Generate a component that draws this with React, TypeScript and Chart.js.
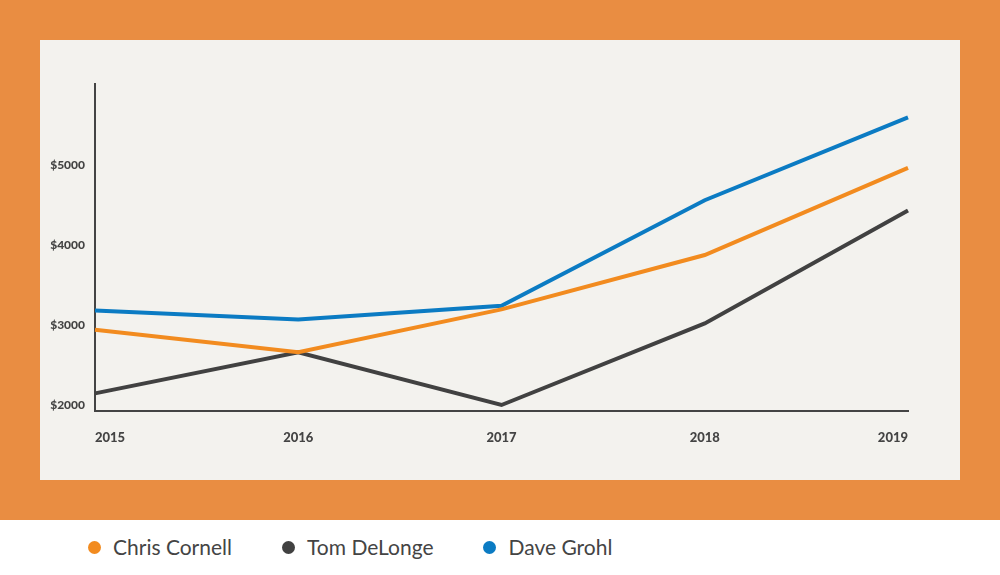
import React, { useEffect, useRef } from "react";
import { Chart, registerables } from "chart.js";

Chart.register(...registerables);

const years = ["2015", "2016", "2017", "2018", "2019"];
const seriesNames = ["Chris Cornell", "Tom DeLonge", "Dave Grohl"];
const seriesColors = ["#F28B1F", "#414141", "#0B7BC3"];
const chrisCornell = [2940, 2660, 3195, 3875, 4965];
const tomDeLonge = [2145, 2660, 2000, 3020, 4430];
const daveGrohl = [3180, 3070, 3240, 4560, 5595];
const yTicks = [2000, 3000, 4000, 5000];

const seriesValues = [chrisCornell, tomDeLonge, daveGrohl];
const TEXT = "#444444";
const FONT = "Lato, 'Noto Sans', sans-serif";

export default function App() {
  const ref = useRef<HTMLCanvasElement | null>(null);

  useEffect(() => {
    if (!ref.current) return;
    const chart = new Chart(ref.current, {
      type: "line",
      data: {
        labels: years,
        datasets: seriesNames.map((name, i) => ({
          label: name,
          data: seriesValues[i],
          borderColor: seriesColors[i],
          backgroundColor: seriesColors[i],
          borderWidth: 4,
          pointRadius: 0,
          pointHoverRadius: 0,
          tension: 0,
          fill: false,
        })),
      },
      options: {
        responsive: false,
        animation: false,
        layout: { padding: { top: 44, right: 52, left: 0, bottom: 0 } },
        plugins: {
          legend: { display: false },
          tooltip: { enabled: false },
        },
        scales: {
          x: {
            grid: { display: false, drawTicks: false },
            border: { display: true, color: TEXT, width: 2 },
            ticks: {
              align: "inner",
              padding: 19,
              color: TEXT,
              font: { family: FONT, size: 13, weight: "900" },
              maxRotation: 0,
            },
            afterFit: (s: any) => {
              s.height = 69;
            },
          },
          y: {
            min: 1925,
            max: 6012.5,
            grid: { display: false, drawTicks: false },
            border: { display: true, color: TEXT, width: 2 },
            afterBuildTicks: (s: any) => {
              s.ticks = yTicks.map((v) => ({ value: v }));
            },
            ticks: {
              padding: 10,
              color: TEXT,
              font: { family: FONT, size: 12, weight: "900" },
              callback: (v: any) => "$" + v,
            },
            afterFit: (s: any) => {
              s.width = 55;
            },
          },
        },
      },
    });
    return () => chart.destroy();
  }, []);

  return (
    <div
      style={{
        position: "fixed",
        left: 0,
        top: 0,
        width: 1000,
        height: 575,
        background: "#FFFFFF",
        fontFamily: FONT,
      }}
    >
      <div
        style={{
          position: "absolute",
          left: 0,
          top: 0,
          width: 1000,
          height: 520,
          background: "#E98D42",
        }}
      />
      <div
        style={{
          position: "absolute",
          left: 40,
          top: 40,
          width: 920,
          height: 440,
          background: "#F3F2EE",
        }}
      >
        <canvas ref={ref} width={920} height={440} style={{ display: "block" }} />
      </div>
      <div
        style={{
          position: "absolute",
          left: 88,
          top: 547,
          transform: "translateY(-50%)",
          display: "flex",
          alignItems: "center",
          gap: 50,
          whiteSpace: "nowrap",
        }}
      >
        {seriesNames.map((name, i) => (
          <div key={name} style={{ display: "flex", alignItems: "center" }}>
            <span
              style={{
                width: 13,
                height: 13,
                borderRadius: "50%",
                background: seriesColors[i],
                display: "inline-block",
                marginRight: 12,
              }}
            />
            <span style={{ fontSize: 21, color: TEXT, lineHeight: "24px" }}>{name}</span>
          </div>
        ))}
      </div>
    </div>
  );
}
